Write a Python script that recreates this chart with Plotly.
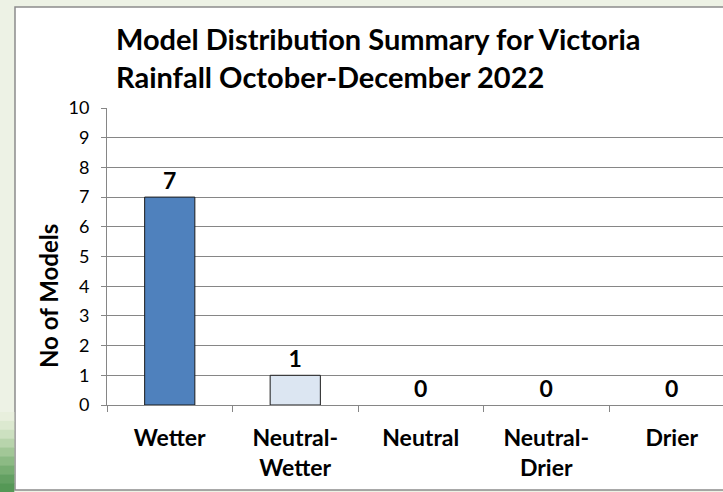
import plotly.graph_objects as go

categories = ["Wetter", "Neutral-<br>Wetter", "Neutral", "Neutral-<br>Drier", "Drier"]
model_counts = [7, 1, 0, 0, 0]
bar_colors = ["#4F81BD", "#DCE6F2", "#DCE6F2", "#DCE6F2", "#DCE6F2"]
y_ticks = list(range(0, 11))

W, H = 723, 492
L, R, T, B = 107, 0, 108, 87
pw = W - L - R
ph = H - T - B
cat_px = 125.5

def px_x(p):
    return (p - L) / pw

def px_y(p):
    return (H - B - p) / ph

FONT = "Lato, 'Open Sans', sans-serif"

fig = go.Figure()
fig.add_trace(go.Bar(
    x=categories,
    y=model_counts,
    width=0.4,
    marker=dict(color=bar_colors,
                line=dict(color="#1a1a1a", width=[1 if v > 0 else 0 for v in model_counts])),
    text=[str(v) for v in model_counts],
    textposition="outside",
    textfont=dict(family=FONT, size=23, color="#000000", weight="bold"),
    cliponaxis=False,
    hoverinfo="skip",
))

shapes = [
    dict(type="rect", xref="paper", yref="paper",
         x0=px_x(15), x1=px_x(740), y0=px_y(490), y1=px_y(7),
         fillcolor="white", line=dict(color="#8c8c8c", width=1.5), layer="below"),
]
grad = ["#E8EFDD", "#DCE9D0", "#CCE0C0", "#B8D4AC", "#A2C797", "#8CBA84", "#77AD72", "#63A062", "#559856"]
y_start, y_end = 412, 492
n = len(grad)
for i, c in enumerate(grad):
    a = y_start + (y_end - y_start) * i / n
    b = y_start + (y_end - y_start) * (i + 1) / n
    shapes.append(dict(type="rect", xref="paper", yref="paper",
                       x0=px_x(0), x1=px_x(14.3), y0=px_y(b + 0.5), y1=px_y(a),
                       fillcolor=c, line=dict(width=0), layer="below"))

fig.update_layout(
    width=W, height=H,
    margin=dict(l=L, r=R, t=T, b=B),
    paper_bgcolor="#EDF2E5",
    plot_bgcolor="white",
    showlegend=False,
    shapes=shapes,
    font=dict(family=FONT, color="#000000"),
)

fig.add_annotation(
    text="Model Distribution Summary for Victoria<br>Rainfall October-December 2022",
    xref="paper", yref="paper", x=px_x(114), y=px_y(19),
    xanchor="left", yanchor="top", align="left", showarrow=False,
    font=dict(family=FONT, size=29, color="#000000", weight="bold"),
)

fig.update_xaxes(
    type="category",
    range=[-0.5, -0.5 + pw / cat_px],
    tickson="boundaries",
    ticks="outside", ticklen=6, tickcolor="#868686", tickwidth=1,
    showline=True, linecolor="#868686", linewidth=1,
    showgrid=False,
    tickfont=dict(family=FONT, size=23, color="#000000", weight="bold"),
    ticklabelstandoff=12,
)
fig.update_yaxes(
    range=[0, 10],
    tickvals=y_ticks,
    ticks="outside", ticklen=5, tickcolor="#868686",
    showline=True, linecolor="#868686", linewidth=1,
    showgrid=True, gridcolor="#868686", gridwidth=1,
    zeroline=False,
    tickfont=dict(family=FONT, size=18, color="#000000"),
    ticklabelstandoff=8,
)

fig.add_annotation(
    text="No of Models", textangle=-90,
    xref="paper", yref="paper", x=px_x(48), y=px_y(296),
    xanchor="center", yanchor="middle", showarrow=False,
    font=dict(family=FONT, size=24, color="#000000", weight="bold"),
)

fig.write_html("out.html", config={"displayModeBar": False},
               post_script="document.body.style.margin='0px';document.body.style.overflow='hidden';")
